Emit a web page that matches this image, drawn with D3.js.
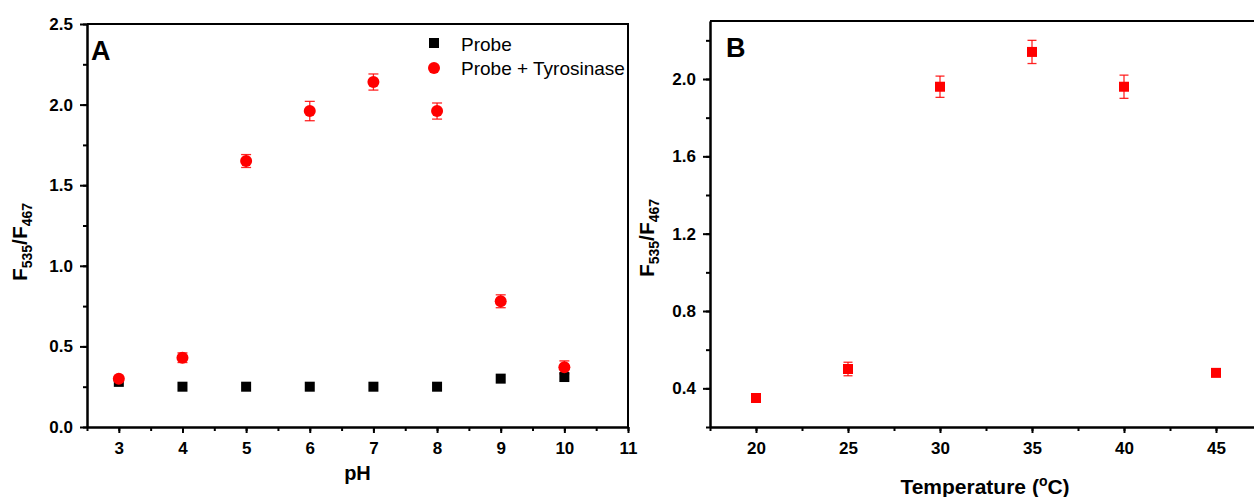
<!DOCTYPE html>
<html>
<head>
<meta charset="utf-8">
<script src="https://cdn.jsdelivr.net/npm/d3@7"></script>
<style>
  body { margin: 0; background: #fff; }
  svg { display: block; font-family: "Liberation Sans", Arial, sans-serif; }
  .axis path, .axis line { stroke: #000; stroke-width: 2; }
  .axis text { font-size: 17px; font-weight: bold; fill: #000; font-family: "Liberation Sans", Arial, sans-serif; }
  .err { stroke: #ff0000; stroke-width: 1.3; stroke-opacity: 0.85; }
</style>
</head>
<body>
<svg width="1254" height="497"></svg>
<script>
// panel A: pH
var phValues = [3, 4, 5, 6, 7, 8, 9, 10];
var probe = [0.28, 0.25, 0.25, 0.25, 0.25, 0.25, 0.30, 0.31];
var probeTyr = [0.30, 0.43, 1.65, 1.96, 2.14, 1.96, 0.78, 0.37];
var probeTyrErr = [0.015, 0.03, 0.04, 0.06, 0.05, 0.05, 0.04, 0.04];
var phTicks = [3, 4, 5, 6, 7, 8, 9, 10, 11];
var ratioTicksA = [0.0, 0.5, 1.0, 1.5, 2.0, 2.5];

// panel B: temperature
var temps = [20, 25, 30, 35, 40, 45];
var tempRatio = [0.35, 0.50, 1.96, 2.14, 1.96, 0.48];
var tempErr = [0.02, 0.035, 0.055, 0.06, 0.06, 0.01];
var tempTicks = [20, 25, 30, 35, 40, 45];
var ratioTicksB = [0.4, 0.8, 1.2, 1.6, 2.0];

var svg = d3.select("svg");

function frame(x, y, top, right) {
  svg.append("path")
      .attr("d", "M" + x.range()[0] + "," + top + "H" + right + "V" + y.range()[0])
      .attr("fill", "none")
      .attr("stroke", "#000")
      .attr("stroke-width", 2);
}

function axes(x, y, xt, xMinor, yt, yMinor, fmtY) {
  var bottom = y.range()[0], left = x.range()[0];
  svg.append("g").attr("class", "axis")
      .attr("transform", "translate(0," + bottom + ")")
      .call(d3.axisBottom(x).tickValues(xMinor).tickSize(4).tickSizeOuter(0).tickFormat(""));
  svg.append("g").attr("class", "axis")
      .attr("transform", "translate(0," + bottom + ")")
      .call(d3.axisBottom(x).tickValues(xt).tickSize(6).tickPadding(9).tickSizeOuter(0).tickFormat(d3.format("d")));
  svg.append("g").attr("class", "axis")
      .attr("transform", "translate(" + left + ",0)")
      .call(d3.axisLeft(y).tickValues(yMinor).tickSize(4).tickSizeOuter(0).tickFormat(""));
  svg.append("g").attr("class", "axis")
      .attr("transform", "translate(" + left + ",0)")
      .call(d3.axisLeft(y).tickValues(yt).tickSize(7).tickPadding(7).tickSizeOuter(0).tickFormat(fmtY));
}

function yLabel(x, y) {
  var t = svg.append("text")
      .attr("transform", "translate(" + x + "," + y + ") rotate(-90)")
      .attr("text-anchor", "middle")
      .attr("font-weight", "bold")
      .attr("font-size", 21);
  t.append("tspan").text("F");
  t.append("tspan").attr("font-size", 14).attr("dy", 5).text("535");
  t.append("tspan").attr("dy", -5).text("/F");
  t.append("tspan").attr("font-size", 14).attr("dy", 5).text("467");
}

function errorBars(x, y, xs, ys, es, cap) {
  xs.forEach(function(v, i) {
    var cx = x(v), lo = y(ys[i] - es[i]), hi = y(ys[i] + es[i]);
    svg.append("line").attr("class", "err").attr("x1", cx).attr("x2", cx).attr("y1", lo).attr("y2", hi);
    svg.append("line").attr("class", "err").attr("x1", cx - cap).attr("x2", cx + cap).attr("y1", lo).attr("y2", lo);
    svg.append("line").attr("class", "err").attr("x1", cx - cap).attr("x2", cx + cap).attr("y1", hi).attr("y2", hi);
  });
}

// ---- panel A ----
var xA = d3.scaleLinear().domain([2.5, 11]).range([87, 628]);
var yA = d3.scaleLinear().domain([0, 2.5]).range([427, 24]);

frame(xA, yA, 24, 628);
axes(xA, yA, phTicks, d3.range(2.5, 11.01, 0.5), ratioTicksA, d3.range(0, 2.51, 0.25), d3.format(".1f"));

errorBars(xA, yA, phValues, probeTyr, probeTyrErr, 5);

svg.selectAll(".probe").data(phValues).enter().append("rect")
    .attr("x", function(d) { return xA(d) - 5; })
    .attr("y", function(d, i) { return yA(probe[i]) - 5; })
    .attr("width", 10).attr("height", 10)
    .attr("fill", "#000");

svg.selectAll(".tyr").data(phValues).enter().append("circle")
    .attr("cx", function(d) { return xA(d); })
    .attr("cy", function(d, i) { return yA(probeTyr[i]); })
    .attr("r", 6)
    .attr("fill", "#ff0000");

// legend
svg.append("rect").attr("x", 429).attr("y", 38).attr("width", 10).attr("height", 10).attr("fill", "#000");
svg.append("circle").attr("cx", 434).attr("cy", 68).attr("r", 6).attr("fill", "#ff0000");
svg.append("text").attr("x", 461).attr("y", 51).attr("font-size", 19).text("Probe");
svg.append("text").attr("x", 461).attr("y", 75).attr("font-size", 19).text("Probe + Tyrosinase");

svg.append("text").attr("x", 91).attr("y", 60).attr("font-size", 27).attr("font-weight", "bold").text("A");
svg.append("text").attr("x", xA(6.75)).attr("y", 480).attr("text-anchor", "middle")
    .attr("font-size", 20).attr("font-weight", "bold").text("pH");
yLabel(27, 242);

// ---- panel B ----
var xB = d3.scaleLinear().domain([17.5, 47.5]).range([710, 1262]);
var yB = d3.scaleLinear().domain([0.2, 2.3]).range([427, 21]);

frame(xB, yB, 21, 1262);
axes(xB, yB, tempTicks, d3.range(17.5, 47.51, 2.5), ratioTicksB, d3.range(0.2, 2.31, 0.2), d3.format(".1f"));

errorBars(xB, yB, temps, tempRatio, tempErr, 4.5);

svg.selectAll(".temp").data(temps).enter().append("rect")
    .attr("x", function(d) { return xB(d) - 5; })
    .attr("y", function(d, i) { return yB(tempRatio[i]) - 5; })
    .attr("width", 10).attr("height", 10)
    .attr("fill", "#ff0000");

svg.append("text").attr("x", 726).attr("y", 57).attr("font-size", 27).attr("font-weight", "bold").text("B");
var tl = svg.append("text").attr("x", 985).attr("y", 494).attr("text-anchor", "middle")
    .attr("font-size", 21).attr("font-weight", "bold");
tl.append("tspan").text("Temperature (");
tl.append("tspan").attr("font-size", 14).attr("dy", -8).text("o");
tl.append("tspan").attr("dy", 8).text("C)");
yLabel(654, 238);
</script>
</body>
</html>
